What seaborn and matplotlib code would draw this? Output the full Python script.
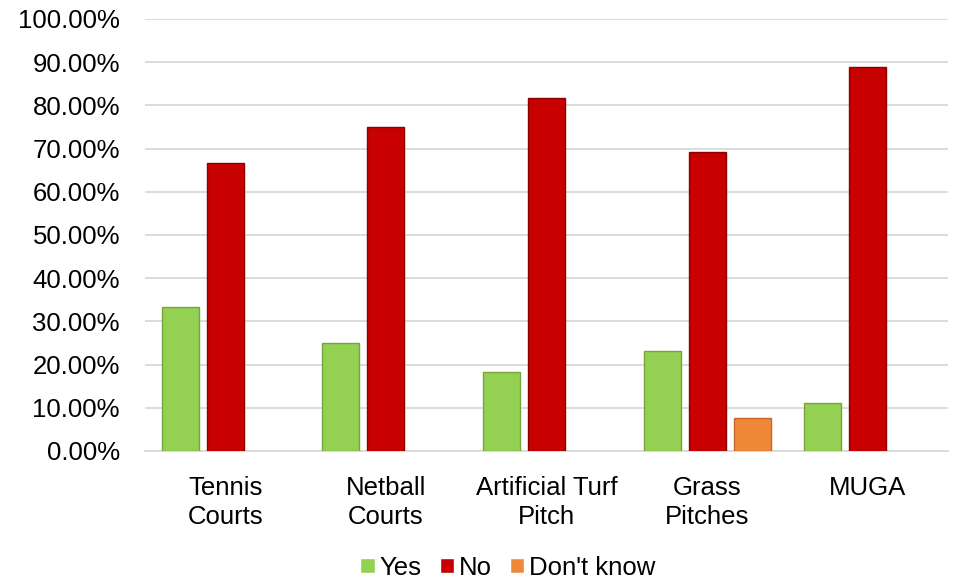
import pandas as pd
import numpy as np
import matplotlib.pyplot as plt
import seaborn as sns
from matplotlib.ticker import FuncFormatter

categories = ["Tennis\nCourts", "Netball\nCourts", "Artificial Turf\nPitch", "Grass\nPitches", "MUGA"]
responses = ["Yes", "No", "Don't know"]
yes_vals = [33.33, 25.00, 18.18, 23.08, 11.11]
no_vals = [66.67, 75.00, 81.82, 69.23, 88.89]
dont_know_vals = [np.nan, np.nan, np.nan, 7.69, np.nan]

colors = ["#94D052", "#C80000", "#F0883A"]
edges = ["#74A63E", "#8C0000", "#C8652A"]

df = pd.DataFrame({
    "Facility": categories * 3,
    "Response": ["Yes"] * 5 + ["No"] * 5 + ["Don't know"] * 5,
    "Percent": yes_vals + no_vals + dont_know_vals,
})

sns.set_style("white")
plt.rcParams["font.family"] = ["Liberation Sans", "DejaVu Sans"]

fig = plt.figure(figsize=(9.55, 5.82), dpi=100)
ax = fig.add_axes([0.1518, 0.2251, 0.841, 0.7423])

sns.barplot(data=df, x="Facility", y="Percent", hue="Response", hue_order=responses,
            palette=colors, saturation=1, width=0.84, gap=0.18, ax=ax,
            legend=True, zorder=3)

# darker edge to hint at the bevel look
for cont, ec in zip(ax.containers, edges):
    for bar in cont:
        bar.set_edgecolor(ec)
        bar.set_linewidth(1.0)

ax.set_ylim(0, 100)
ax.set_yticks(np.arange(0, 101, 10))
ax.yaxis.set_major_formatter(FuncFormatter(lambda v, p: f"{v:.2f}%"))
ax.grid(axis="y", color="#D9D9D9", linewidth=1.3, zorder=0)
ax.set_axisbelow(True)
for s in ["top", "right", "left"]:
    ax.spines[s].set_visible(False)
ax.spines["bottom"].set_color("#D9D9D9")
ax.spines["bottom"].set_linewidth(1.3)
ax.set_xlabel("")
ax.set_ylabel("")
ax.tick_params(axis="y", length=0, pad=18, labelsize=18.5, labelcolor="#000000")
ax.tick_params(axis="x", length=0, pad=18, labelsize=18.5, labelcolor="#000000")
for t in ax.get_xticklabels():
    t.set_linespacing(1.25)

handles, labels = ax.get_legend_handles_labels()
ax.legend(handles, labels, loc="center", bbox_to_anchor=(0.452, -0.27),
          ncol=3, frameon=False, fontsize=18.5, handlelength=0.55, handleheight=0.55,
          handletextpad=0.2, columnspacing=0.7, labelcolor="#000000")

fig.savefig("out.png", dpi=100)
